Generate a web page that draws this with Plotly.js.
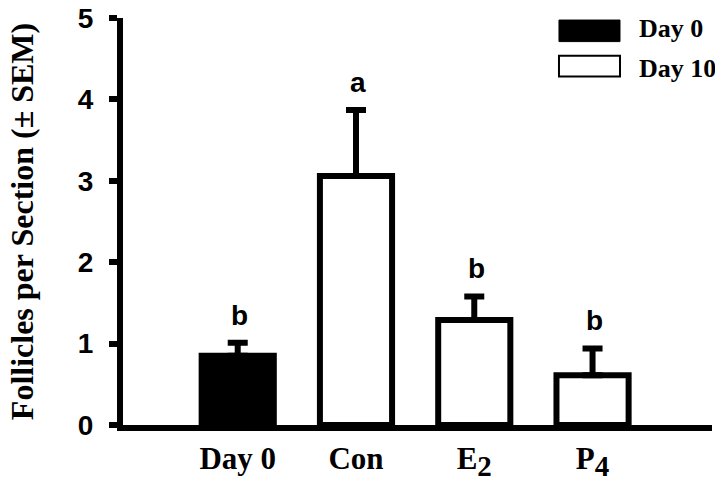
<!DOCTYPE html>
<html>
<head>
<meta charset="utf-8">
<script src="https://cdn.plot.ly/plotly-3.0.1.min.js"></script>
<style>html,body{margin:0;padding:0;background:#fff;}#chart{width:715px;height:479px;}</style>
</head>
<body>
<div id="chart"></div>
<script>
// Data
const categories = ["Day 0", "Con", "E<sub><span style=\"font-size:29px\">2</span></sub>", "P<sub><span style=\"font-size:29px\">4</span></sub>"];
const positions = [0, 1, 2, 3];
const means = [0.85, 3.06, 1.29, 0.61];
const sems = [0.16, 0.81, 0.29, 0.33];
const letters = ["b", "a", "b", "b"];
const groups = ["Day 0", "Day 10", "Day 10", "Day 10"];
const yTicks = [0, 1, 2, 3, 4, 5];
const legendLabels = ["Day 0", "Day 10"];

const serif = "Liberation Serif, Times New Roman, serif";
const sans = "Liberation Sans, Arial, sans-serif";

function makeTrace(group, fill) {
  const ii = positions.map((p, i) => i).filter(i => groups[i] === group);
  return {
    type: "bar",
    name: group,
    x: ii.map(i => positions[i]),
    y: ii.map(i => means[i]),
    width: 0.61,
    marker: {color: fill, line: {color: "#000", width: 6}},
    error_y: {
      type: "data", symmetric: false,
      array: ii.map(i => sems[i]),
      arrayminus: ii.map(() => 0),
      color: "#000", thickness: 6, width: 10
    },
    showlegend: false,
    hoverinfo: "skip"
  };
}

const traces = [makeTrace("Day 0", "#000"), makeTrace("Day 10", "#fff")];

const annotations = positions.map((p, i) => ({
  x: p, y: means[i] + sems[i], xref: "x", yref: "y",
  text: letters[i], showarrow: false, yanchor: "bottom", yshift: 10, xshift: 2,
  font: {family: sans, size: 28, color: "#000", weight: "bold"}
}));

// Legend (drawn manually to match the large swatches)
const legendY = [0.975, 0.875];
legendLabels.forEach((lab, i) => {
  annotations.push({
    xref: "paper", yref: "paper", x: 0.872, y: legendY[i],
    xanchor: "left", yanchor: "middle", showarrow: false,
    text: lab, font: {family: serif, size: 26, color: "#000", weight: "bold"}
  });
});

const shapes = [
  {type: "rect", xref: "paper", yref: "paper", x0: 0.7402, x1: 0.8438, y0: 0.942, y1: 0.995,
   fillcolor: "#000", line: {color: "#000", width: 1}},
  {type: "rect", xref: "paper", yref: "paper", x0: 0.7402, x1: 0.8438, y0: 0.856, y1: 0.907,
   fillcolor: "#fff", line: {color: "#000", width: 2}}
];

const layout = {
  width: 715, height: 479,
  margin: {l: 123, r: 3, t: 18, b: 54},
  paper_bgcolor: "#fff", plot_bgcolor: "#fff",
  showlegend: false,
  xaxis: {
    range: [-0.97, 4.01],
    tickvals: positions, ticktext: categories,
    showline: true, linecolor: "#000", linewidth: 6,
    ticks: "", showgrid: false, zeroline: false,
    tickfont: {family: serif, size: 31, color: "#000", weight: "bold"},
    ticklabelstandoff: 1
  },
  yaxis: {
    range: [0, 5],
    tickvals: yTicks,
    showline: true, linecolor: "#000", linewidth: 6,
    ticks: "outside", ticklen: 8, tickwidth: 6, tickcolor: "#000",
    showgrid: false, zeroline: false,
    tickfont: {family: sans, size: 28, color: "#000", weight: "bold"},
    ticklabelstandoff: 10,
    title: {text: "Follicles per Section (± SEM)", standoff: 37,
            font: {family: serif, size: 32, color: "#000", weight: "bold"}}
  },
  annotations: annotations,
  shapes: shapes
};

Plotly.newPlot("chart", traces, layout, {displayModeBar: false, staticPlot: true});
</script>
</body>
</html>
